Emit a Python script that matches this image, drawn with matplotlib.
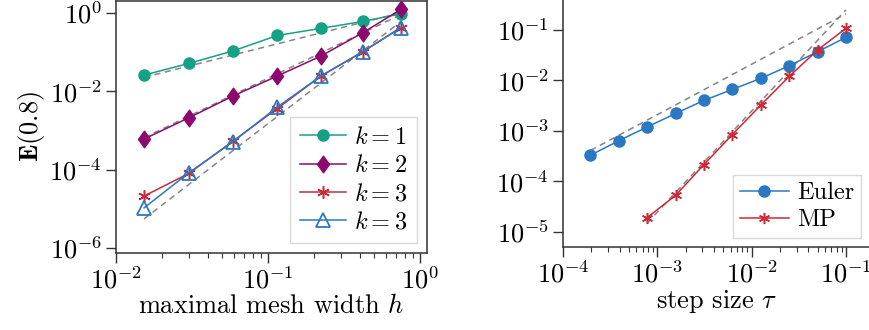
import numpy as np
import matplotlib
matplotlib.use("Agg")
import matplotlib.pyplot as plt
from matplotlib.path import Path
from matplotlib.ticker import LogLocator, NullLocator

plt.rcParams['font.family'] = 'serif'
plt.rcParams['font.serif'] = ['cmr10']
plt.rcParams['mathtext.fontset'] = 'cm'
plt.rcParams['axes.formatter.use_mathtext'] = True
plt.rcParams['axes.unicode_minus'] = False

# ---- data: left panel (spatial convergence) ----
h = [0.0153, 0.0302, 0.0588, 0.115, 0.223, 0.42, 0.75]
err_k1 = [0.0257, 0.051, 0.106, 0.263, 0.40, 0.60, 0.94]
err_k2 = [6.0e-4, 2.1e-3, 7.5e-3, 0.0243, 0.0785, 0.309, 1.22]
err_k3a = [2.1e-5, 8.0e-5, 5.3e-4, 3.6e-3, 0.0243, 0.101, 0.42]
err_k3b = [1.05e-5, 8.3e-5, 5.1e-4, 3.9e-3, 0.0243, 0.101, 0.42]
ref_h = [0.0153, 0.75]
ref1_left = [0.0225, 1.0]
ref2_left = [6.5e-4, 0.9]
ref3_left = [5.5e-6, 0.6]
left_labels = ['$k=1$', '$k=2$', '$k=3$', '$k=3$']

# ---- data: right panel (temporal convergence) ----
tau = [1.953e-4, 3.906e-4, 7.8125e-4, 1.5625e-3, 3.125e-3, 6.25e-3, 0.0125, 0.025, 0.05, 0.1]
err_euler = [3.3e-4, 6.4e-4, 1.2e-3, 2.22e-3, 4.03e-3, 6.65e-3, 0.0110, 0.0196, 0.0371, 0.0716]
tau_mp = [7.8125e-4, 1.5625e-3, 3.125e-3, 6.25e-3, 0.0125, 0.025, 0.05, 0.1]
err_mp = [1.92e-5, 5.3e-5, 2.16e-4, 8.5e-4, 3.25e-3, 0.01205, 0.0401, 0.108]
ref1_tau = [1.953e-4, 0.1]
ref1_right = [4.1e-4, 0.21]
ref2_tau = [7.8125e-4, 0.1]
ref2_right = [1.5e-5, 0.25]
right_labels = ['Euler', 'MP']

green = '#16a085'
purple = '#8c0a6e'
red = '#cc2936'
blue = '#2b78c2'
gray = '#858585'

diamond = Path([(0, 1), (0.72, 0), (0, -1), (-0.72, 0), (0, 1)],
               [Path.MOVETO, Path.LINETO, Path.LINETO, Path.LINETO, Path.CLOSEPOLY])
aster = (6, 2, 0)

FS = 19
LFS = 17.5

fig = plt.figure(figsize=(8.7, 3.3), dpi=100)
ax1 = fig.add_axes([116/870, 1-253/330, (427-116)/870, 252/330])
ax2 = fig.add_axes([563/870, 1-247/330, (870-563)/870, 247/330])

dash = dict(color=gray, ls=(0, (4, 3)), lw=1.1, zorder=1)
for ry in (ref1_left, ref2_left, ref3_left):
    ax1.plot(ref_h, ry, **dash)

lw = 1.1
ax1.plot(h, err_k1, color=green, marker='o', ms=8, lw=lw, label=left_labels[0], zorder=3)
ax1.plot(h, err_k2, color=purple, marker=diamond, ms=12, lw=lw, label=left_labels[1], zorder=3)
ax1.plot(h, err_k3a, color=red, marker=aster, ms=9, mew=1.1, lw=lw, label=left_labels[2], zorder=3)
ax1.plot(h, err_k3b, color=blue, marker='^', ms=10, mfc='none', mew=1.3, lw=lw, label=left_labels[3], zorder=4)

ax1.set_xscale('log')
ax1.set_yscale('log')
ax1.set_xlim(0.01, 10**0.046)
ax1.set_ylim(10**-6.13, 10**0.30)
ax1.set_yticks([1e-6, 1e-4, 1e-2, 1e0])
ax1.yaxis.set_minor_locator(NullLocator())
ax1.xaxis.set_major_locator(LogLocator(base=10, numticks=10))
ax1.xaxis.set_minor_locator(LogLocator(base=10, subs=np.arange(2, 10), numticks=20))
ax1.set_xlabel('maximal mesh width $h$', fontsize=FS, labelpad=0)
ax1.set_ylabel(r'$\mathbf{E}(0.8)$', fontsize=FS, labelpad=2)
leg1 = ax1.legend(loc='lower right', fontsize=LFS, frameon=True, fancybox=False,
                  edgecolor='#d0d0d0', handlelength=1.9, borderpad=0.4,
                  labelspacing=0.25, handletextpad=0.35, borderaxespad=0.4)
leg1.get_frame().set_linewidth(1.0)

for ax in (ax1, ax2):
    ax.tick_params(axis='both', which='major', length=7, width=1.0, labelsize=FS, pad=3, color='#333333')
    ax.tick_params(axis='both', which='minor', length=3.8, width=0.8, color='#333333')
    for s in ax.spines.values():
        s.set_linewidth(1.1)
        s.set_color('#333333')

# right panel
ax2.plot(ref1_tau, ref1_right, **dash)
ax2.plot(ref2_tau, ref2_right, **dash)
ax2.plot(tau, err_euler, color=blue, marker='o', ms=8, lw=lw, label=right_labels[0], zorder=3)
ax2.plot(tau_mp, err_mp, color=red, marker=aster, ms=8, mew=1.1, lw=lw, label=right_labels[1], zorder=3)
ax2.set_xscale('log')
ax2.set_yscale('log')
ax2.set_xlim(1e-4, 10**-0.745)
ax2.set_ylim(10**-5.30, 10**-0.405)
ax2.set_yticks([1e-5, 1e-4, 1e-3, 1e-2, 1e-1])
ax2.yaxis.set_minor_locator(NullLocator())
ax2.xaxis.set_major_locator(LogLocator(base=10, numticks=10))
ax2.xaxis.set_minor_locator(LogLocator(base=10, subs=np.arange(2, 10), numticks=20))
ax2.spines['top'].set_visible(False)
ax2.spines['right'].set_visible(False)
ax2.set_xlabel(r'step size $\tau$', fontsize=FS, labelpad=0)
leg2 = ax2.legend(loc='lower right', fontsize=LFS, frameon=True, fancybox=False,
                  edgecolor='#d0d0d0', handlelength=2.0, borderpad=0.3,
                  labelspacing=0.2, handletextpad=0.35, borderaxespad=0.35)
leg2.get_frame().set_linewidth(1.0)

fig.savefig('out.png', dpi=100)
